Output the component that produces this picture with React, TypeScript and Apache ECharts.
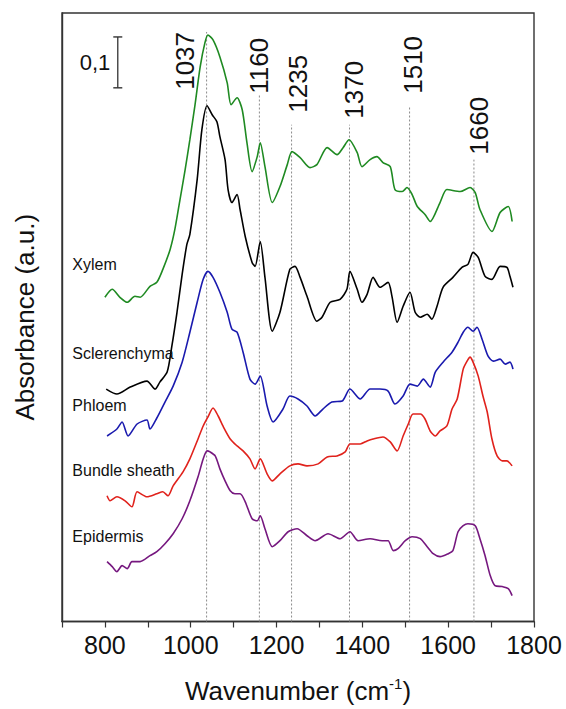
import React, { useEffect, useRef } from "react";
import * as echarts from "echarts";

// [wavenumber (cm-1), offset absorbance (a.u.)]
const xylem: number[][] = [
  [800, 0.65], [817, 0.666], [835, 0.65], [852, 0.64], [870, 0.652], [882, 0.65], [905, 0.672], [921, 0.68],
  [935, 0.706], [952, 0.746], [963, 0.786], [975, 0.846], [987, 0.906], [998, 0.966], [1010, 1.036], [1022, 1.112],
  [1033, 1.16], [1040, 1.176], [1052, 1.166], [1068, 1.132], [1085, 1.08], [1094, 1.036], [1108, 1.05], [1120, 1.026],
  [1131, 0.96], [1143, 0.902], [1155, 0.932], [1162, 0.96], [1173, 0.912], [1190, 0.84], [1208, 0.872], [1225, 0.916],
  [1236, 0.942], [1255, 0.93], [1278, 0.91], [1294, 0.916], [1318, 0.95], [1341, 0.936], [1355, 0.95], [1369, 0.966],
  [1388, 0.94], [1399, 0.912], [1418, 0.926], [1434, 0.932], [1448, 0.92], [1465, 0.912], [1476, 0.866], [1493, 0.862],
  [1504, 0.87], [1516, 0.856], [1528, 0.832], [1546, 0.816], [1558, 0.802], [1581, 0.84], [1597, 0.866], [1628, 0.862],
  [1651, 0.87], [1663, 0.86], [1674, 0.826], [1702, 0.782], [1721, 0.82], [1740, 0.832], [1749, 0.802],
];

const sclerenchyma: number[][] = [
  [803, 0.466], [828, 0.456], [859, 0.47], [898, 0.482], [917, 0.466], [928, 0.48], [945, 0.5], [956, 0.552],
  [968, 0.62], [980, 0.696], [991, 0.756], [998, 0.776], [1015, 0.886], [1026, 0.986], [1038, 1.034], [1050, 1.016],
  [1061, 1.002], [1068, 0.972], [1080, 0.926], [1087, 0.866], [1096, 0.84], [1108, 0.856], [1115, 0.826], [1127, 0.772],
  [1143, 0.72], [1150, 0.712], [1162, 0.762], [1173, 0.69], [1190, 0.582], [1208, 0.62], [1231, 0.706], [1243, 0.712],
  [1255, 0.69], [1271, 0.652], [1294, 0.602], [1306, 0.61], [1325, 0.64], [1348, 0.646], [1364, 0.666], [1371, 0.702],
  [1388, 0.666], [1399, 0.64], [1411, 0.656], [1425, 0.69], [1441, 0.67], [1460, 0.68], [1469, 0.652], [1481, 0.6],
  [1495, 0.632], [1511, 0.66], [1523, 0.62], [1535, 0.61], [1551, 0.616], [1562, 0.606], [1574, 0.632], [1588, 0.67],
  [1611, 0.69], [1632, 0.71], [1646, 0.716], [1658, 0.74], [1670, 0.73], [1686, 0.692], [1702, 0.686], [1721, 0.712],
  [1737, 0.71], [1744, 0.692], [1751, 0.67],
];

const phloem: number[][] = [
  [805, 0.372], [828, 0.386], [840, 0.4], [854, 0.372], [875, 0.396], [898, 0.404], [905, 0.386], [921, 0.408],
  [940, 0.44], [959, 0.472], [980, 0.52], [998, 0.58], [1015, 0.64], [1029, 0.686], [1040, 0.702], [1052, 0.69],
  [1068, 0.66], [1085, 0.62], [1096, 0.586], [1108, 0.58], [1122, 0.54], [1138, 0.486], [1150, 0.476], [1162, 0.492],
  [1178, 0.432], [1192, 0.4], [1215, 0.426], [1231, 0.452], [1250, 0.446], [1271, 0.432], [1290, 0.412], [1308, 0.426],
  [1329, 0.44], [1353, 0.442], [1371, 0.466], [1395, 0.446], [1418, 0.466], [1441, 0.466], [1460, 0.462], [1476, 0.436],
  [1495, 0.452], [1511, 0.476], [1528, 0.472], [1542, 0.486], [1558, 0.47], [1570, 0.5], [1588, 0.52], [1609, 0.54],
  [1623, 0.56], [1635, 0.58], [1646, 0.59], [1658, 0.582], [1667, 0.59], [1679, 0.566], [1693, 0.532], [1705, 0.522],
  [1721, 0.526], [1733, 0.516], [1744, 0.52], [1751, 0.506],
];

const bundleSheath: number[][] = [
  [805, 0.252], [812, 0.242], [828, 0.25], [847, 0.242], [863, 0.23], [875, 0.26], [898, 0.25], [921, 0.256],
  [935, 0.26], [947, 0.252], [959, 0.272], [982, 0.3], [998, 0.326], [1017, 0.366], [1029, 0.392], [1040, 0.41],
  [1052, 0.428], [1064, 0.412], [1075, 0.392], [1092, 0.366], [1108, 0.352], [1122, 0.342], [1138, 0.326], [1150, 0.306],
  [1162, 0.326], [1178, 0.296], [1190, 0.282], [1208, 0.296], [1231, 0.312], [1250, 0.316], [1271, 0.312], [1297, 0.316],
  [1318, 0.33], [1341, 0.332], [1360, 0.34], [1371, 0.356], [1395, 0.356], [1411, 0.362], [1425, 0.366], [1448, 0.37],
  [1465, 0.36], [1481, 0.342], [1495, 0.372], [1507, 0.396], [1518, 0.416], [1535, 0.416], [1546, 0.406], [1558, 0.382],
  [1570, 0.372], [1581, 0.382], [1597, 0.392], [1609, 0.426], [1621, 0.446], [1635, 0.506], [1644, 0.522], [1651, 0.53],
  [1658, 0.52], [1670, 0.492], [1681, 0.452], [1691, 0.42], [1702, 0.366], [1714, 0.332], [1726, 0.322], [1737, 0.322],
  [1749, 0.312],
];

const epidermis: number[][] = [
  [805, 0.12], [817, 0.11], [828, 0.1], [840, 0.112], [852, 0.106], [863, 0.12], [882, 0.12], [905, 0.132],
  [921, 0.14], [940, 0.156], [959, 0.176], [980, 0.206], [998, 0.242], [1017, 0.29], [1029, 0.326], [1038, 0.342],
  [1045, 0.34], [1057, 0.332], [1068, 0.306], [1080, 0.282], [1092, 0.262], [1103, 0.256], [1115, 0.256], [1127, 0.24],
  [1143, 0.206], [1155, 0.202], [1162, 0.212], [1173, 0.186], [1190, 0.15], [1208, 0.162], [1227, 0.18], [1248, 0.186],
  [1271, 0.172], [1290, 0.162], [1320, 0.176], [1348, 0.166], [1371, 0.18], [1390, 0.162], [1418, 0.166], [1446, 0.162],
  [1460, 0.162], [1472, 0.142], [1483, 0.146], [1500, 0.162], [1516, 0.17], [1535, 0.166], [1551, 0.15], [1565, 0.136],
  [1581, 0.13], [1600, 0.136], [1611, 0.142], [1623, 0.18], [1635, 0.192], [1646, 0.196], [1663, 0.192], [1674, 0.166],
  [1686, 0.132], [1698, 0.092], [1709, 0.072], [1726, 0.07], [1740, 0.066], [1749, 0.052],
];

const peakWavenumbers = [1037, 1160, 1235, 1370, 1510, 1660];
const peakLineTops = [1.182, 1.056, 0.996, 0.996, 1.032, 0.926];
const peakLabelPos: number[][] = [
  [987, 1.124], [1159, 1.114], [1249, 1.078], [1381, 1.066], [1518, 1.116], [1671, 0.994],
];

const seriesNames = ["Xylem", "Sclerenchyma", "Phloem", "Bundle sheath", "Epidermis"];
const seriesColors = ["#1f8a22", "#000000", "#1a1aae", "#e0221c", "#76187f"];
const seriesLabelPos: number[][] = [
  [723, 0.716], [723, 0.538], [723, 0.434], [723, 0.302], [723, 0.17],
];

const scaleBar: number[][] = [[830, 1.07], [830, 1.172]];
const scaleBarLabel = { text: "0,1", pos: [777, 1.12] };

const xTicks = { min: 700, max: 1800, interval: 100 };

export default function App() {
  const ref = useRef<HTMLDivElement>(null);
  useEffect(() => {
    if (!ref.current) return;
    const chart = echarts.init(ref.current, undefined, { renderer: "svg" });
    const font = "'Liberation Sans', Arial, sans-serif";
    const ink = "#111111";
    const spectra = [xylem, sclerenchyma, phloem, bundleSheath, epidermis];

    const textLabel = (size: number, extra: any) => ({
      show: true,
      formatter: "{b}",
      fontFamily: font,
      fontSize: size,
      color: ink,
      opacity: 1,
      ...extra,
    });

    const option: any = {
      animation: false,
      backgroundColor: "#ffffff",
      grid: {
        left: 62,
        right: 32,
        top: 13,
        bottom: 86,
        show: true,
        borderColor: "#333",
        borderWidth: 1.4,
      },
      xAxis: {
        type: "value",
        min: xTicks.min,
        max: xTicks.max,
        interval: xTicks.interval,
        axisLine: { show: true, lineStyle: { color: "#333", width: 1.4 } },
        axisTick: { show: true, inside: false, length: 6, lineStyle: { color: "#333", width: 1.2 } },
        axisLabel: {
          fontFamily: font,
          fontSize: 25,
          color: ink,
          margin: 11,
          formatter: (v: number) => (v % 200 === 0 ? String(v) : ""),
        },
        splitLine: { show: false },
        name: "{a|Wavenumber (cm}{b|-1}{a|)}",
        nameLocation: "middle",
        nameGap: 54,
        nameTextStyle: {
          fontFamily: font,
          color: ink,
          rich: {
            a: { fontFamily: font, fontSize: 26, color: ink },
            b: { fontFamily: font, fontSize: 15, color: ink, padding: [0, 0, 16, 0] },
          },
        },
      },
      yAxis: {
        type: "value",
        min: 0,
        max: 1.22,
        axisLine: { show: true, lineStyle: { color: "#333", width: 1.4 } },
        axisTick: { show: false },
        axisLabel: { show: false },
        splitLine: { show: false },
        name: "Absorbance (a.u.)",
        nameLocation: "middle",
        nameGap: 24,
        nameTextStyle: { fontFamily: font, fontSize: 26, color: ink },
      },
      series: [
        // dotted peak guide lines
        ...peakWavenumbers.map((w, i) => ({
          type: "line",
          data: [[w, 0], [w, peakLineTops[i]]],
          symbol: "none",
          silent: true,
          lineStyle: { color: "#8a8a8a", width: 1, type: [2, 2] },
          z: 1,
        })),
        // spectra
        ...spectra.map((d, i) => ({
          type: "line",
          name: seriesNames[i],
          data: d,
          symbol: "none",
          smooth: 0.25,
          lineStyle: { color: seriesColors[i], width: 1.6 },
          z: 3,
        })),
        // peak labels
        {
          type: "scatter",
          symbolSize: 1,
          silent: true,
          itemStyle: { opacity: 0 },
          data: peakWavenumbers.map((w, i) => ({ value: peakLabelPos[i], name: String(w) })),
          label: textLabel(26, { position: "inside", rotate: 90 }),
          z: 4,
        },
        // series name labels
        {
          type: "scatter",
          symbolSize: 1,
          silent: true,
          itemStyle: { opacity: 0 },
          data: seriesNames.map((n, i) => ({ value: seriesLabelPos[i], name: n })),
          label: textLabel(16, { position: "right", distance: 0 }),
          z: 4,
        },
        // scale bar
        {
          type: "line",
          data: scaleBar,
          symbol: "rect",
          symbolSize: [9, 1.4],
          itemStyle: { color: "#333" },
          lineStyle: { color: "#333", width: 1.3 },
          silent: true,
          z: 4,
        },
        {
          type: "scatter",
          symbolSize: 1,
          silent: true,
          itemStyle: { opacity: 0 },
          data: [{ value: scaleBarLabel.pos, name: scaleBarLabel.text }],
          label: textLabel(22, { position: "inside" }),
          z: 4,
        },
      ],
    };
    chart.setOption(option);
    return () => chart.dispose();
  }, []);
  return (
    <div
      ref={ref}
      style={{ position: "absolute", left: 0, top: 0, width: 566, height: 709 }}
    />
  );
}
